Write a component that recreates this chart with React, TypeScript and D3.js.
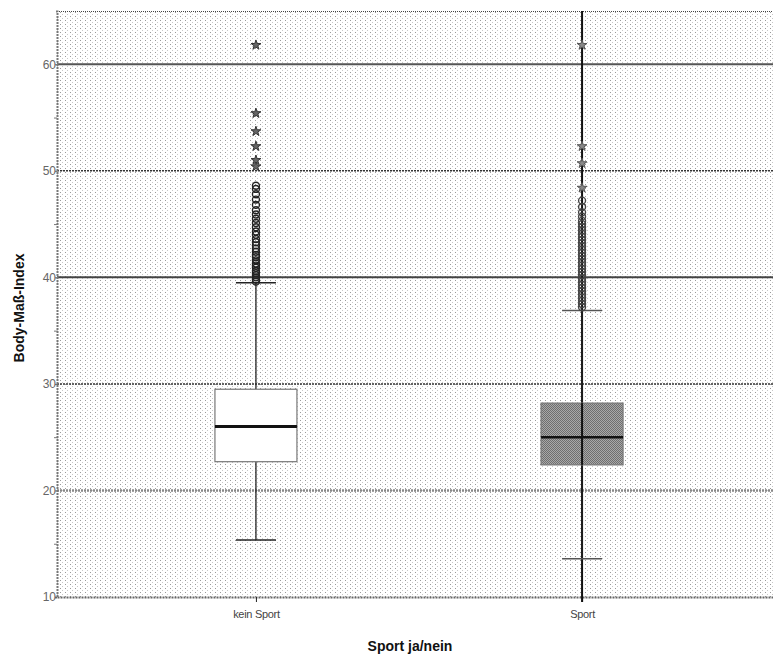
import React, { useEffect, useRef } from 'react'
import * as d3 from 'd3'

// categories and box statistics
const categories = ['kein Sport', 'Sport']
const lowerWhisker = [15.35, 13.6]
const q1 = [22.7, 22.4]
const median = [26.0, 25.0]
const q3 = [29.5, 28.2]
const upperWhisker = [39.5, 36.9]

// outliers (circles) and extremes (stars)
const keinSportCircles = [39.6, 39.8, 40.0, 40.2, 40.4, 40.6, 40.9, 41.1, 41.3, 41.6, 41.9, 42.1, 42.4, 42.7, 43.0, 43.3, 43.6, 44.0, 44.3, 44.7, 45.1, 45.5, 45.9, 46.3, 46.8, 47.3, 47.8, 48.3, 48.6]
const keinSportStars = [50.4, 51.0, 52.3, 53.7, 55.4, 61.8]
const sportCircles = [37.2, 37.5, 37.8, 38.1, 38.4, 38.7, 39.0, 39.3, 39.6, 39.9, 40.2, 40.5, 40.8, 41.1, 41.4, 41.7, 42.0, 42.3, 42.6, 42.9, 43.2, 43.5, 43.8, 44.1, 44.4, 44.7, 45.0, 45.3, 45.7, 46.1, 46.6, 47.2]
const sportStars = [48.4, 50.7, 52.3, 61.8]

const majorTicks = [10, 20, 30, 40, 50, 60]
const minorTicks = [15, 25, 35, 45, 55]

const W = 773
const H = 658

const App = () => {
  const ref = useRef(null)

  useEffect(() => {
    const svg = d3.select(ref.current)
    svg.selectAll('*').remove()

    const left = 57, top = 11, bottom = 597, right = 781
    const y = d3.scaleLinear().domain([10, 65]).range([bottom, top])
    const x = d3.scalePoint().domain(categories).range([left, right]).padding(0.61)

    const defs = svg.append('defs')
    const pat = defs.append('pattern')
      .attr('id', 'dots')
      .attr('patternUnits', 'userSpaceOnUse')
      .attr('width', 5).attr('height', 4)
    pat.append('rect').attr('x', 0).attr('y', 0).attr('width', 1).attr('height', 1).attr('fill', '#9a9a9a')
    pat.append('rect').attr('x', 2).attr('y', 2).attr('width', 1).attr('height', 1).attr('fill', '#c8c8c8')

    const pat2 = defs.append('pattern')
      .attr('id', 'boxfill')
      .attr('patternUnits', 'userSpaceOnUse')
      .attr('width', 2).attr('height', 2)
    pat2.append('rect').attr('width', 2).attr('height', 2).attr('fill', '#a8a8a8')
    pat2.append('rect').attr('width', 1).attr('height', 1).attr('fill', '#6e6e6e')
    pat2.append('rect').attr('x', 1).attr('y', 1).attr('width', 1).attr('height', 1).attr('fill', '#6e6e6e')

    // plot background
    svg.append('rect')
      .attr('x', left).attr('y', top)
      .attr('width', right - left).attr('height', bottom - top)
      .attr('fill', 'white')
    svg.append('rect')
      .attr('x', left).attr('y', top)
      .attr('width', right - left).attr('height', bottom - top)
      .attr('fill', 'url(#dots)')

    // top border
    svg.append('line')
      .attr('x1', left).attr('x2', right).attr('y1', top + 0.5).attr('y2', top + 0.5)
      .attr('stroke', '#444').attr('stroke-dasharray', '1,1')

    // grid lines
    const gridStyle = {
      60: { stroke: '#555', w: 2, dash: null },
      50: { stroke: '#333', w: 1.5, dash: '2,1' },
      40: { stroke: '#444', w: 2, dash: null },
      30: { stroke: '#333', w: 1.5, dash: '2,1' },
      20: { stroke: '#888', w: 2.5, dash: '2,1' },
    }
    Object.keys(gridStyle).forEach(k => {
      const v = +k
      const s = gridStyle[k]
      svg.append('line')
        .attr('x1', left).attr('x2', right)
        .attr('y1', y(v)).attr('y2', y(v))
        .attr('stroke', s.stroke).attr('stroke-width', s.w)
        .attr('stroke-dasharray', s.dash)
    })

    // y axis
    const yAxis = svg.append('g')
      .attr('transform', `translate(${left},0)`)
      .call(d3.axisLeft(y).tickValues(majorTicks).tickSize(2).tickFormat(d3.format('d')))
    yAxis.select('.domain').attr('stroke', '#777').attr('stroke-width', 2)
      .attr('stroke-dasharray', '2,1')
    yAxis.selectAll('.tick line').attr('stroke', '#666')
    yAxis.selectAll('.tick text')
      .attr('fill', '#666')
      .attr('font-family', 'Liberation Sans, Arial, sans-serif')
      .attr('font-size', 12)
      .attr('x', -1)
    const yMinor = svg.append('g')
      .attr('transform', `translate(${left},0)`)
      .call(d3.axisLeft(y).tickValues(minorTicks).tickSize(3).tickFormat(() => ''))
    yMinor.select('.domain').remove()
    yMinor.selectAll('.tick line').attr('stroke', '#777')

    // x axis
    const xAxis = svg.append('g')
      .attr('transform', `translate(0,${bottom})`)
      .call(d3.axisBottom(x).tickSize(5).tickSizeOuter(0))
    xAxis.select('.domain').attr('stroke', '#666').attr('stroke-width', 2)
      .attr('stroke-dasharray', '2,1')
    xAxis.selectAll('.tick line').attr('stroke', '#222')
    xAxis.selectAll('.tick text')
      .attr('fill', '#444')
      .attr('font-family', 'Liberation Sans, Arial, sans-serif')
      .attr('font-size', 11)
      .attr('dy', '1.2em')
      .attr('letter-spacing', '-0.3')

    const boxW = 82
    const capW = 40

    // long vertical line through the Sport category
    svg.append('line')
      .attr('x1', x('Sport')).attr('x2', x('Sport'))
      .attr('y1', top).attr('y2', bottom + 5)
      .attr('stroke', '#111').attr('stroke-width', 2)

    categories.forEach((c, i) => {
      const cx = x(c)
      const g = svg.append('g')
      // whiskers
      g.append('line')
        .attr('x1', cx).attr('x2', cx)
        .attr('y1', y(upperWhisker[i])).attr('y2', y(q3[i]))
        .attr('stroke', '#222').attr('stroke-width', 1.3)
      g.append('line')
        .attr('x1', cx).attr('x2', cx)
        .attr('y1', y(q1[i])).attr('y2', y(lowerWhisker[i]))
        .attr('stroke', '#222').attr('stroke-width', 1.3)
      ;[upperWhisker[i], lowerWhisker[i]].forEach(v => {
        g.append('line')
          .attr('x1', cx - capW / 2).attr('x2', cx + capW / 2)
          .attr('y1', y(v)).attr('y2', y(v))
          .attr('stroke', i === 0 ? '#222' : '#555').attr('stroke-width', 1.5)
      })
      // box
      g.append('rect')
        .attr('x', cx - boxW / 2).attr('y', y(q3[i]))
        .attr('width', boxW).attr('height', y(q1[i]) - y(q3[i]))
        .attr('fill', i === 0 ? 'white' : 'url(#boxfill)')
        .attr('stroke', '#777').attr('stroke-width', 1.2)
      g.append('line')
        .attr('x1', cx - boxW / 2).attr('x2', cx + boxW / 2)
        .attr('y1', y(median[i])).attr('y2', y(median[i]))
        .attr('stroke', '#111').attr('stroke-width', i === 0 ? 3 : 2.5)
      if (i === 1) {
        g.append('line')
          .attr('x1', cx).attr('x2', cx)
          .attr('y1', y(q3[i])).attr('y2', y(q1[i]))
          .attr('stroke', '#111').attr('stroke-width', 2)
      }
    })

    const circle = d3.symbol().type(d3.symbolCircle).size(38)
    const star = d3.symbol().type(d3.symbolStar).size(30)

    const drawSym = (vals, cat, path, stroke, fill, sw) => {
      svg.append('g').selectAll('path')
        .data(vals).enter()
        .append('path')
        .attr('d', path)
        .attr('transform', d => `translate(${x(cat)},${y(d)})`)
        .attr('fill', fill)
        .attr('stroke', stroke)
        .attr('stroke-width', sw)
    }
    drawSym(keinSportCircles, 'kein Sport', circle, '#222', 'none', 1.4)
    drawSym(keinSportStars, 'kein Sport', star, '#333', '#666', 1)
    drawSym(sportCircles, 'Sport', circle, '#444', 'none', 1.4)
    drawSym(sportStars, 'Sport', star, '#555', '#888', 1)

    // axis titles
    svg.append('text')
      .attr('transform', `translate(24,${(top + bottom) / 2 + 4}) rotate(-90)`)
      .attr('text-anchor', 'middle')
      .attr('font-family', 'Liberation Sans, Arial, sans-serif')
      .attr('font-weight', 'bold')
      .attr('font-size', 14)
      .attr('fill', '#111')
      .text('Body-Maß-Index')
    svg.append('text')
      .attr('x', 410).attr('y', 651)
      .attr('text-anchor', 'middle')
      .attr('font-family', 'Liberation Sans, Arial, sans-serif')
      .attr('font-weight', 'bold')
      .attr('font-size', 14)
      .attr('fill', '#111')
      .text('Sport ja/nein')
  }, [])

  return (
    <svg ref={ref} width={W} height={H}
      style={{ position: 'absolute', left: 0, top: 0, background: 'white' }} />
  )
}

export default App
